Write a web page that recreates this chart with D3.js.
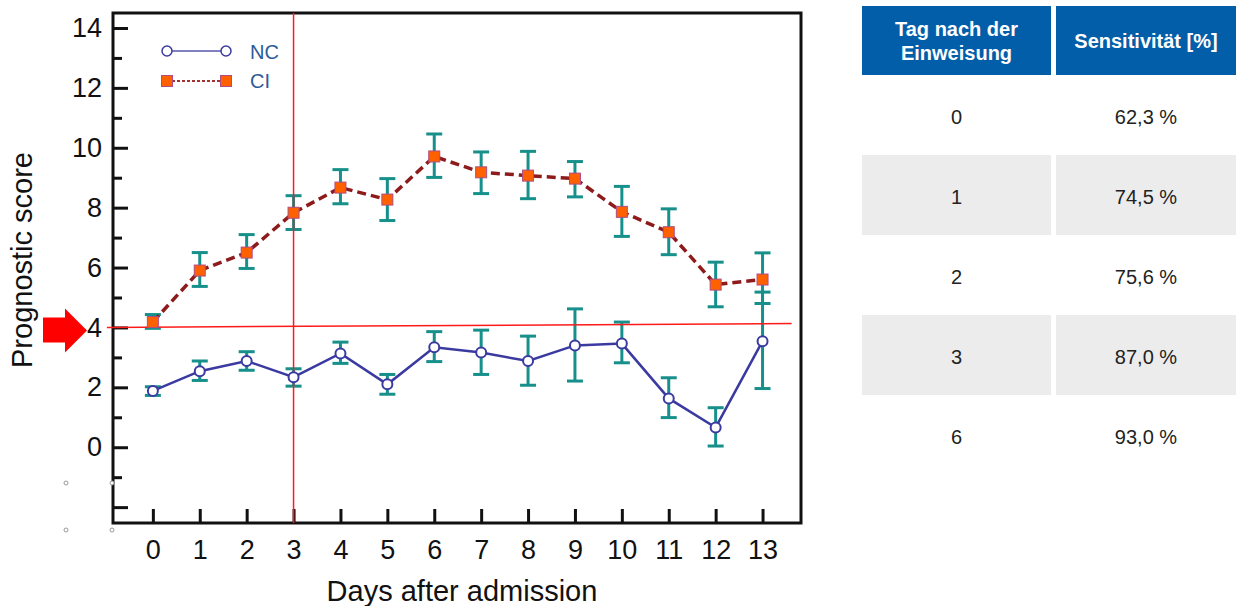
<!DOCTYPE html>
<html>
<head>
<meta charset="utf-8">
<script src="https://cdn.jsdelivr.net/npm/d3@7"></script>
<style>
	body { margin: 0; background: #fff; }
	svg { display: block; font-family: "Liberation Sans", Arial, sans-serif; }
</style>
</head>
<body>
<svg id="chart" width="1236" height="606"></svg>
<script>
/*********************************************************\
* Prognostic score by day, NC vs CI, plus sensitivity table *
\*********************************************************/

var days = [0, 1, 2, 3, 4, 5, 6, 7, 8, 9, 10, 11, 12, 13];

var ciMean = [4.18, 5.9, 6.5, 7.83, 8.67, 8.27, 9.71, 9.18, 9.07, 8.97, 7.86, 7.18, 5.43, 5.6];
var ciHigh = [4.43, 6.5, 7.1, 8.4, 9.27, 8.97, 10.46, 9.86, 9.88, 9.54, 8.71, 7.96, 6.18, 6.49];
var ciLow  = [3.97, 5.37, 5.97, 7.27, 8.13, 7.57, 9.01, 8.47, 8.3, 8.36, 7.04, 6.43, 4.69, 4.8];

var ncMean = [1.88, 2.54, 2.88, 2.34, 3.13, 2.1, 3.34, 3.16, 2.88, 3.4, 3.46, 1.63, 0.66, 3.54];
var ncHigh = [2.02, 2.88, 3.19, 2.62, 3.51, 2.43, 3.86, 3.91, 3.71, 4.62, 4.18, 2.32, 1.32, 5.18];
var ncLow  = [1.73, 2.23, 2.57, 2.04, 2.8, 1.77, 2.86, 2.43, 2.07, 2.21, 2.82, 0.99, 0.04, 1.96];

var yMajorTicks = [-2, 0, 2, 4, 6, 8, 10, 12, 14];
var yMinorTicks = [-1, 1, 3, 5, 7, 9, 11, 13];

var cutoffDay = 3;
var cutoffLine = [[-0.98, 4.0], [13.62, 4.13]];

var tableHead = ['Tag nach der\nEinweisung', 'Sensitivität [%]'];
var tableDays = ['0', '1', '2', '3', '6'];
var tableSens = ['62,3 %', '74,5 %', '75,6 %', '87,0 %', '93,0 %'];

//- - - - - - - - - - - - - - - - - - - - - - - - - - - - - - - - - - - - - - - 

var svg = d3.select('#chart');

var frame = {left: 113, top: 13, right: 801, bottom: 523};

var x = d3.scaleLinear().domain([-0.85, 13.82]).range([frame.left, frame.right]);
var y = d3.scaleLinear().domain([-2.53, 14.5]).range([frame.bottom, frame.top]);

var col = {
	err: '#17908b',
	nc: '#3a3aa0',
	ciLine: '#8e1b1b',
	ciFill: '#ff6000',
	ciEdge: '#b04c86',
	red: '#ff1a1a',
	legendText: '#2d5a98'
};

// axes
var yMajor = svg.append('g')
	.attr('transform', 'translate(' + frame.left + ',0)')
	.call(d3.axisLeft(y).tickValues(yMajorTicks).tickSize(-15).tickPadding(11)
		.tickFormat(function (d) { return d < 0 ? '' : d; }));

var yMinor = svg.append('g')
	.attr('transform', 'translate(' + frame.left + ',0)')
	.call(d3.axisLeft(y).tickValues(yMinorTicks).tickSize(-9).tickFormat(''));

var xAxis = svg.append('g')
	.attr('transform', 'translate(0,' + frame.bottom + ')')
	.call(d3.axisBottom(x).tickValues(days).tickSize(-14).tickPadding(17));

[yMajor, yMinor, xAxis].forEach(function (g) {
	g.select('.domain').remove();
	g.selectAll('line').attr('stroke', '#111').attr('stroke-width', 3);
	g.selectAll('text').attr('fill', '#111').style('font-size', '27px')
		.style('font-family', '"Liberation Sans", Arial, sans-serif');
});

svg.append('rect')
	.attr('x', frame.left).attr('y', frame.top)
	.attr('width', frame.right - frame.left).attr('height', frame.bottom - frame.top)
	.attr('fill', 'none').attr('stroke', '#111').attr('stroke-width', 3);

// axis titles
svg.append('text')
	.attr('x', 462).attr('y', 601)
	.attr('text-anchor', 'middle')
	.style('font-size', '29px').attr('fill', '#111')
	.text('Days after admission');

svg.append('text')
	.attr('transform', 'translate(32,260) rotate(-90)')
	.attr('text-anchor', 'middle')
	.style('font-size', '29px').attr('fill', '#111')
	.text('Prognostic score');

// tiny handle marks left over from the source picture
svg.append('g').selectAll('circle')
	.data([[66, 483], [112, 483], [66, 530], [112, 530]])
	.enter().append('circle')
	.attr('cx', function (d) { return d[0]; })
	.attr('cy', function (d) { return d[1]; })
	.attr('r', 2)
	.attr('fill', '#fff').attr('stroke', '#999').attr('stroke-width', 1);

// error bars
function errorBars(mean, low, high)
{
	var g = svg.append('g').attr('stroke', col.err).attr('stroke-width', 3);
	var bars = g.selectAll('g').data(days).enter().append('g');

	bars.append('line')
		.attr('x1', function (d) { return x(d); })
		.attr('x2', function (d) { return x(d); })
		.attr('y1', function (d, i) { return y(low[i]); })
		.attr('y2', function (d, i) { return y(high[i]); });

	[low, high].forEach(function (arr) {
		bars.append('line')
			.attr('x1', function (d) { return x(d) - 8; })
			.attr('x2', function (d) { return x(d) + 8; })
			.attr('y1', function (d, i) { return y(arr[i]); })
			.attr('y2', function (d, i) { return y(arr[i]); });
	});
}

errorBars(ciMean, ciLow, ciHigh);
errorBars(ncMean, ncLow, ncHigh);

// reference lines
svg.append('line')
	.attr('x1', x(cutoffDay)).attr('x2', x(cutoffDay))
	.attr('y1', frame.top).attr('y2', frame.bottom)
	.attr('stroke', col.red).attr('stroke-width', 1.5);

svg.append('line')
	.attr('x1', x(cutoffLine[0][0])).attr('y1', y(cutoffLine[0][1]))
	.attr('x2', x(cutoffLine[1][0])).attr('y2', y(cutoffLine[1][1]))
	.attr('stroke', col.red).attr('stroke-width', 1.5);

// arrow pointing at 4
var ay = y(cutoffLine[0][1]) + 3;
svg.append('path')
	.attr('d', 'M43,' + (ay - 13) + 'H65V' + (ay - 22) + 'L87,' + ay +
		'L65,' + (ay + 22) + 'V' + (ay + 12) + 'H43Z')
	.attr('fill', '#ff0000');

// series lines
var line = function (vals) {
	return d3.line()
		.x(function (d) { return x(d); })
		.y(function (d, i) { return y(vals[i]); })(days);
};

svg.append('path')
	.attr('d', line(ciMean))
	.attr('fill', 'none').attr('stroke', col.ciLine)
	.attr('stroke-width', 3.5).attr('stroke-dasharray', '9,5');

svg.append('path')
	.attr('d', line(ncMean))
	.attr('fill', 'none').attr('stroke', col.nc).attr('stroke-width', 2.5);

// markers
svg.append('g').selectAll('rect')
	.data(days).enter().append('rect')
	.attr('x', function (d) { return x(d) - 5.5; })
	.attr('y', function (d, i) { return y(ciMean[i]) - 5.5; })
	.attr('width', 11).attr('height', 11)
	.attr('fill', col.ciFill).attr('stroke', col.ciEdge).attr('stroke-width', 1);

svg.append('g').selectAll('circle')
	.data(days).enter().append('circle')
	.attr('cx', function (d) { return x(d); })
	.attr('cy', function (d, i) { return y(ncMean[i]); })
	.attr('r', 5)
	.attr('fill', '#fff').attr('stroke', col.nc).attr('stroke-width', 2);

// legend
var legend = svg.append('g');

legend.append('line')
	.attr('x1', 167).attr('x2', 226).attr('y1', 51).attr('y2', 51)
	.attr('stroke', '#5757ad').attr('stroke-width', 1.5);
legend.selectAll('circle.leg').data([167, 226]).enter().append('circle')
	.attr('cx', function (d) { return d; }).attr('cy', 51).attr('r', 5)
	.attr('fill', '#fff').attr('stroke', col.nc).attr('stroke-width', 1.5);

legend.append('line')
	.attr('x1', 167).attr('x2', 226).attr('y1', 81).attr('y2', 81)
	.attr('stroke', '#a33333').attr('stroke-width', 2).attr('stroke-dasharray', '3,2');
legend.selectAll('rect').data([167, 226]).enter().append('rect')
	.attr('x', function (d) { return d - 5.5; }).attr('y', 75.5)
	.attr('width', 11).attr('height', 11)
	.attr('fill', col.ciFill).attr('stroke', col.ciEdge).attr('stroke-width', 1);

legend.selectAll('text').data(['NC', 'CI']).enter().append('text')
	.attr('x', 250)
	.attr('y', function (d, i) { return 59 + i * 29; })
	.style('font-size', '20px').attr('fill', col.legendText)
	.text(function (d) { return d; });

//------------------------------------------------------------------------------

// sensitivity table
var cols = [{x: 862, w: 189}, {x: 1056, w: 180}];
var headTop = 6, headH = 69, rowH = 80;
var table = svg.append('g');

table.selectAll('rect.head').data(cols).enter().append('rect')
	.attr('x', function (d) { return d.x; }).attr('y', headTop)
	.attr('width', function (d) { return d.w; }).attr('height', headH)
	.attr('fill', '#035ea9');

tableHead.forEach(function (h, c) {
	var lines = h.split('\n');
	var t = table.append('text')
		.attr('text-anchor', 'middle')
		.style('font-size', '20px').style('font-weight', 'bold').attr('fill', '#fff');
	lines.forEach(function (l, k) {
		t.append('tspan')
			.attr('x', cols[c].x + cols[c].w / 2)
			.attr('y', headTop + headH / 2 + 7 + (k - (lines.length - 1) / 2) * 24)
			.text(l);
	});
});

tableDays.forEach(function (d, r) {
	var top = headTop + headH + r * rowH;
	if (r % 2 == 1) {
		cols.forEach(function (c) {
			table.append('rect')
				.attr('x', c.x).attr('y', top)
				.attr('width', c.w).attr('height', rowH)
				.attr('fill', '#ececec');
		});
	}
	[d, tableSens[r]].forEach(function (v, c) {
		table.append('text')
			.attr('x', cols[c].x + cols[c].w / 2)
			.attr('y', top + rowH / 2 + 9)
			.attr('text-anchor', 'middle')
			.style('font-size', '20px').attr('fill', '#222')
			.text(v);
	});
});
</script>
</body>
</html>
